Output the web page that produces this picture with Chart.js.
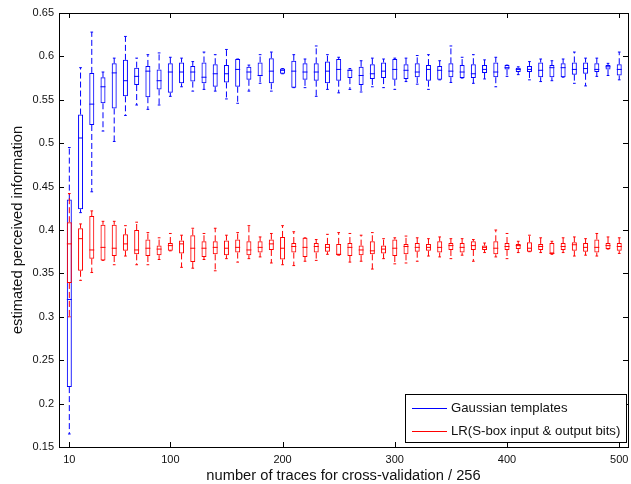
<!DOCTYPE html>
<html>
<head>
<meta charset="utf-8">
<script src="https://cdn.jsdelivr.net/npm/chart.js@4/dist/chart.umd.min.js"></script>
<style>
  html, body { margin: 0; padding: 0; background: #fff; }
  #wrap { width: 631px; height: 484px; }
</style>
</head>
<body>
<div id="wrap"><canvas id="boxChart" width="631" height="484"></canvas></div>
<script>
// number of traces (x / 256)
const traces = [10, 20, 30, 40, 50, 60, 70, 80, 90, 100,
  110, 120, 130, 140, 150, 160, 170, 180, 190, 200,
  210, 220, 230, 240, 250, 260, 270, 280, 290, 300,
  310, 320, 330, 340, 350, 360, 370, 380, 390, 400,
  410, 420, 430, 440, 450, 460, 470, 480, 490, 500];

// Gaussian templates (blue)
const gaussMax = [.495, .587, .628, .582, .598, .623, .598, .602, .604, .599,
  .598, .594, .605, .602, .608, .597, .590, .602, .605, .586,
  .602, .597, .612, .602, .599, .586, .595, .598, .597, .598,
  .598, .601, .602, .595, .612, .599, .602, .596, .599, .590,
  .588, .594, .597, .595, .597, .605, .598, .598, .592, .605];
const gaussQ3 = [.435, .533, .581, .576, .592, .596, .587, .589, .585, .592,
  .593, .589, .593, .591, .590, .597, .588, .593, .598, .586,
  .595, .592, .592, .594, .597, .585, .588, .591, .593, .597,
  .591, .592, .590, .589, .592, .590, .591, .590, .593, .590,
  .587, .589, .593, .590, .592, .593, .593, .592, .590, .591];
const gaussMed = [.320, .506, .545, .565, .581, .572, .577, .583, .572, .582,
  .582, .582, .576, .580, .580, .585, .582, .578, .583, .584,
  .583, .582, .582, .583, .585, .584, .578, .580, .583, .585,
  .584, .582, .585, .584, .583, .582, .580, .585, .582, .587,
  .585, .585, .584, .587, .587, .585, .586, .585, .588, .585];
const gaussQ1 = [.219, .424, .521, .546, .540, .554, .567, .553, .562, .558,
  .569, .571, .569, .565, .570, .565, .573, .577, .569, .580,
  .564, .573, .572, .569, .572, .575, .567, .574, .575, .573,
  .574, .576, .572, .573, .576, .575, .575, .581, .576, .585,
  .582, .582, .576, .576, .576, .579, .580, .582, .585, .578];
const gaussMin = [.165, .420, .444, .514, .502, .532, .544, .539, .544, .554,
  .565, .560, .562, .560, .551, .546, .560, .569, .560, .580,
  .564, .564, .554, .562, .558, .562, .559, .565, .564, .562,
  .571, .568, .562, .573, .570, .575, .569, .574, .565, .577,
  .579, .573, .571, .572, .576, .569, .566, .577, .578, .573];

// LR (S-box input & output bits) (red)
const lrMax = [.442, .407, .422, .410, .410, .405, .409, .397, .391, .396,
  .394, .402, .396, .402, .394, .397, .405, .392, .396, .405,
  .398, .391, .389, .395, .397, .396, .394, .397, .390, .391,
  .393, .391, .390, .392, .390, .390, .389, .385, .400, .396,
  .387, .394, .391, .387, .391, .392, .390, .396, .392, .391];
const lrQ3 = [.409, .402, .416, .406, .406, .395, .400, .389, .382, .385,
  .388, .394, .387, .387, .388, .389, .387, .387, .389, .392,
  .385, .391, .385, .384, .384, .385, .382, .387, .382, .389,
  .384, .385, .384, .387, .385, .385, .387, .382, .387, .385,
  .384, .386, .384, .385, .385, .386, .385, .389, .385, .385];
const lrMed = [.384, .390, .377, .380, .379, .384, .377, .379, .378, .382,
  .384, .379, .379, .380, .379, .380, .377, .380, .384, .379,
  .381, .380, .381, .380, .372, .380, .377, .376, .378, .379,
  .381, .380, .380, .380, .382, .380, .382, .380, .379, .381,
  .382, .379, .381, .373, .381, .383, .380, .380, .382, .381];
const lrQ1 = [.339, .353, .367, .365, .370, .376, .372, .370, .371, .376,
  .373, .363, .369, .372, .371, .374, .371, .374, .377, .366,
  .374, .369, .374, .375, .371, .370, .371, .372, .373, .370,
  .372, .375, .376, .374, .377, .374, .377, .377, .372, .377,
  .378, .375, .377, .373, .377, .376, .375, .374, .378, .376];
const lrMin = [.300, .342, .351, .365, .360, .370, .360, .360, .366, .376,
  .357, .356, .366, .353, .367, .363, .367, .369, .362, .360,
  .359, .364, .365, .372, .371, .363, .364, .355, .367, .361,
  .362, .364, .370, .369, .367, .371, .364, .374, .369, .367,
  .374, .375, .374, .372, .374, .370, .371, .370, .378, .373];

const xTicks = [10, 100, 200, 300, 400, 500];
const yTicks = [0.15, 0.2, 0.25, 0.3, 0.35, 0.4, 0.45, 0.5, 0.55, 0.6, 0.65];

const seriesNames = ['Gaussian templates', 'LR(S-box input & output bits)'];
const blue = '#0000ff';
const red = '#ff0000';

const boxHalf = 2.2;  // half box width in x units (for median lines)
const capHalf = 1.2;  // half whisker cap width

function boxes(color, q1, q3) {
  return {
    type: 'bar',
    data: traces.map((t, i) => ({ x: t, y: [q1[i], q3[i]] })),
    backgroundColor: 'rgba(0,0,0,0)',
    borderColor: color,
    borderWidth: 1,
    borderSkipped: false,
    inflateAmount: 0,
    barThickness: 5,
    grouped: false
  };
}

function whiskers(color, lo, q1, q3, hi) {
  const pts = [];
  traces.forEach((t, i) => {
    pts.push({ x: t, y: q3[i] }, { x: t, y: hi[i] }, { x: t, y: null });
    pts.push({ x: t, y: q1[i] }, { x: t, y: lo[i] }, { x: t, y: null });
  });
  return {
    type: 'line', data: pts, borderColor: color, borderWidth: 1,
    borderDash: [6, 3], pointRadius: 0, spanGaps: false, fill: false
  };
}

function hlines(color, half, arrs) {
  const pts = [];
  traces.forEach((t, i) => {
    arrs.forEach(a => {
      pts.push({ x: t - half, y: a[i] }, { x: t + half, y: a[i] }, { x: t + half, y: null });
    });
  });
  return {
    type: 'line', data: pts, borderColor: color, borderWidth: 1,
    pointRadius: 0, spanGaps: false, fill: false
  };
}

// inward ticks, frame and legend, MATLAB style
const framePlugin = {
  id: 'frame',
  afterDraw(chart) {
    const { ctx, chartArea: a, scales } = chart;
    ctx.save();
    ctx.setLineDash([]);
    ctx.strokeStyle = '#000';
    ctx.lineWidth = 1;
    ctx.beginPath();
    xTicks.forEach(v => {
      const px = Math.round(scales.x.getPixelForValue(v)) + 0.5;
      ctx.moveTo(px, a.bottom); ctx.lineTo(px, a.bottom - 5);
      ctx.moveTo(px, a.top); ctx.lineTo(px, a.top + 5);
    });
    yTicks.forEach(v => {
      const py = Math.round(scales.y.getPixelForValue(v)) + 0.5;
      ctx.moveTo(a.left, py); ctx.lineTo(a.left + 5, py);
      ctx.moveTo(a.right, py); ctx.lineTo(a.right - 5, py);
    });
    ctx.stroke();
    ctx.strokeRect(Math.round(a.left) + 0.5, Math.round(a.top) + 0.5,
      Math.round(a.right - a.left), Math.round(a.bottom - a.top));

    // legend
    const w = 221, h = 48;
    const lx = Math.round(a.right) - 2 - w, ly = Math.round(a.bottom) - 5 - h;
    ctx.fillStyle = '#fff';
    ctx.fillRect(lx, ly, w, h);
    ctx.strokeStyle = '#000';
    ctx.strokeRect(lx + 0.5, ly + 0.5, w, h);
    ctx.font = '13.2px "Liberation Sans", Arial, sans-serif';
    ctx.textBaseline = 'middle';
    ctx.textAlign = 'left';
    [blue, red].forEach((c, k) => {
      const yy = Math.round(ly + 13.5 + k * 23.3);
      ctx.fillStyle = c;
      ctx.fillRect(lx + 7, yy, 35, 1);
      ctx.fillStyle = '#111';
      ctx.fillText(seriesNames[k], lx + 46, yy + 0.5);
    });
    ctx.restore();
  }
};

new Chart(document.getElementById('boxChart'), {
  type: 'bar',
  data: {
    datasets: [
      whiskers(red, lrMin, lrQ1, lrQ3, lrMax),
      hlines(red, capHalf, [lrMin, lrMax]),
      boxes(red, lrQ1, lrQ3),
      hlines(red, boxHalf, [lrMed]),
      whiskers(blue, gaussMin, gaussQ1, gaussQ3, gaussMax),
      hlines(blue, capHalf, [gaussMin, gaussMax]),
      boxes(blue, gaussQ1, gaussQ3),
      hlines(blue, boxHalf, [gaussMed])
    ]
  },
  options: {
    responsive: false,
    animation: false,
    events: [],
    devicePixelRatio: 1,
    layout: { padding: { top: 13, right: 3, left: 0, bottom: 0 } },
    plugins: { legend: { display: false }, tooltip: { enabled: false } },
    scales: {
      x: {
        type: 'linear',
        offset: false,
        min: 0.8, max: 507.8,
        afterBuildTicks: s => { s.ticks = xTicks.map(v => ({ value: v })); },
        afterFit: s => { s.height = 37; s.paddingLeft = 0; s.paddingRight = 0; },
        grid: { display: false, drawTicks: false },
        border: { display: false },
        ticks: { autoSkip: false, maxRotation: 0, padding: 6, color: '#111',
          font: { family: '"Liberation Sans", Arial, sans-serif', size: 11 } },
        title: { display: true, text: 'number of traces for cross-validation / 256',
          color: '#111', padding: { top: 0, bottom: -1 },
          font: { family: '"Liberation Sans", Arial, sans-serif', size: 14.7 } }
      },
      y: {
        min: 0.15, max: 0.65,
        afterBuildTicks: s => { s.ticks = yTicks.map(v => ({ value: v })); },
        afterFit: s => { s.width = 59; s.paddingTop = 0; s.paddingBottom = 0; },
        grid: { display: false, drawTicks: false },
        border: { display: false },
        ticks: { autoSkip: false, padding: 5, color: '#111',
          callback: v => String(v),
          font: { family: '"Liberation Sans", Arial, sans-serif', size: 11 } },
        title: { display: true, text: 'estimated perceived information',
          color: '#111', padding: { top: 9, bottom: 0 },
          font: { family: '"Liberation Sans", Arial, sans-serif', size: 14.7 } }
      }
    }
  },
  plugins: [framePlugin]
});
</script>
</body>
</html>
